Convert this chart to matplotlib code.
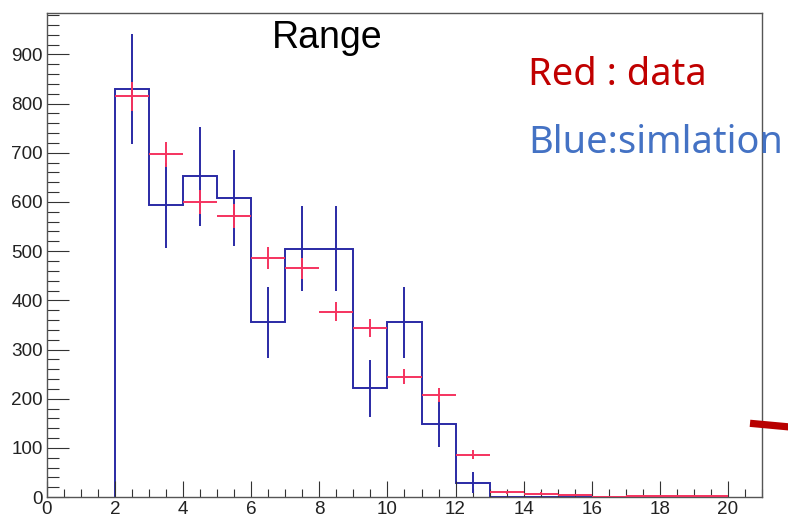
import numpy as np
import matplotlib.pyplot as plt
from matplotlib.lines import Line2D
from matplotlib.ticker import MultipleLocator

# bin edges 2..20, one unit wide
edges = np.arange(2, 21, 1)
centers = edges[:-1] + 0.5

# blue : simulation (scaled MC)
sim_counts = [830, 593, 652, 608, 355, 505, 505, 221, 355, 148, 29,
              0, 0, 0, 0, 0, 0, 0]
sim_err = [112, 86, 101, 97, 73, 87, 87, 58, 73, 47, 21,
           0, 0, 0, 0, 0, 0, 0]

# red : data
data_counts = [815, 697, 600, 571, 486, 465, 377, 344, 245, 208, 86,
               10, 7, 5, 0, 2, 2, 2]
data_err = [29, 26, 25, 24, 22, 22, 19, 19, 16, 14, 9,
            3, 3, 2, 0, 1, 1, 1]

blue = '#2a2aa5'
red = '#f5335f'

fig = plt.figure(figsize=(7.88, 5.20), dpi=100)
ax = fig.add_axes([0.0596, 0.0442, 0.9074, 0.9314])

ax.stairs(sim_counts, edges, color=blue, lw=1.4, baseline=0)
nz = [i for i in range(len(sim_counts)) if sim_counts[i] > 0]
ax.errorbar(centers[nz], np.array(sim_counts)[nz], yerr=np.array(sim_err)[nz],
            fmt='none', ecolor=blue, elinewidth=1.4, capsize=0)
ax.errorbar(centers, data_counts, xerr=0.5, yerr=data_err,
            fmt='none', ecolor=red, elinewidth=1.4, capsize=0, zorder=3)

ax.set_xlim(0, 21)
ax.set_ylim(0, 985)
ax.xaxis.set_major_locator(MultipleLocator(2))
ax.xaxis.set_minor_locator(MultipleLocator(0.5))
ax.yaxis.set_major_locator(MultipleLocator(100))
ax.yaxis.set_minor_locator(MultipleLocator(20))
ax.tick_params(axis='both', which='both', direction='in', color='#333333',
               width=0.8, labelsize=13.6, labelcolor='#222222',
               top=False, right=False)
ax.tick_params(axis='y', which='major', length=16, pad=3)
ax.tick_params(axis='y', which='minor', length=8.6)
ax.tick_params(axis='x', which='major', length=11.3, pad=3)
ax.tick_params(axis='x', which='minor', length=5.8)
for lab in ax.get_xticklabels() + ax.get_yticklabels():
    lab.set_family('Liberation Sans')
for s in ax.spines.values():
    s.set_color('#555555')
    s.set_linewidth(1.0)

fig.text(272 / 788, 1 - 48 / 520, 'Range', family='Liberation Sans',
         fontsize=27, color='black', ha='left', va='baseline')
fig.text(528 / 788, 1 - 85 / 520, 'Red : data', family='Noto Sans',
         fontsize=27.4, color='#c00000', ha='left', va='baseline')
fig.text(528 / 788, 1 - 152.5 / 520, 'Blue:simlation', family='Noto Sans',
         fontsize=27.4, color='#4472c4', ha='left', va='baseline')

# thick red stroke clipped at the right edge
fig.add_artist(Line2D([750 / 788, 790 / 788], [1 - 423.3 / 520, 1 - 427 / 520],
                      color='#b80000', lw=5.2, solid_capstyle='butt'))

fig.savefig('out.png', dpi=100)
